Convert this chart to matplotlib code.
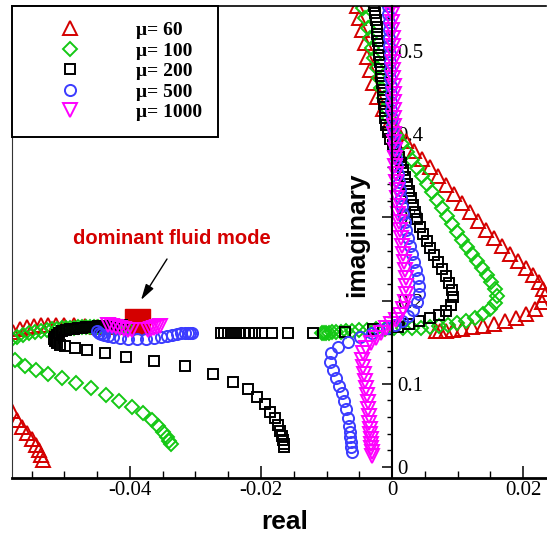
import matplotlib
matplotlib.use('Agg')

import matplotlib.pyplot as plt
from matplotlib.ticker import MultipleLocator
from matplotlib.font_manager import FontProperties

plt.rcParams['axes.unicode_minus'] = False

# eigenvalue loci (real, imaginary) for each mass ratio, one list pair per branch
mu60_a_re = [-0.00534, -0.00504, -0.00458, -0.00412, -0.00382, -0.00336, -0.00290, -0.00229, -0.00137, -0.00031,
             0.00092, 0.00214, 0.00336, 0.00458, 0.00580, 0.00702, 0.00824, 0.00947, 0.01069, 0.01191,
             0.01313, 0.01435, 0.01557, 0.01679, 0.01802, 0.01924, 0.02046, 0.02153, 0.02244, 0.02305,
             0.02336, 0.02290, 0.02183, 0.02046, 0.01893, 0.01725, 0.01557, 0.01389, 0.01221, 0.01069,
             0.00931, 0.00824, 0.00733, 0.00672]
mu60_a_im = [0.5541, 0.5397, 0.5252, 0.5096, 0.4928, 0.4772, 0.4615, 0.4447, 0.4303, 0.4159,
             0.4026, 0.3918, 0.3798, 0.3702, 0.3606, 0.3498, 0.3389, 0.3281, 0.3173, 0.3065,
             0.2957, 0.2849, 0.2752, 0.2656, 0.2560, 0.2476, 0.2392, 0.2308, 0.2224, 0.2139,
             0.2067, 0.1983, 0.1899, 0.1839, 0.1791, 0.1755, 0.1719, 0.1695, 0.1683, 0.1659,
             0.1647, 0.1635, 0.1635, 0.1635]
mu60_b_re = [-0.05786, -0.05679, -0.05573, -0.05466, -0.05359, -0.05252, -0.05130, -0.05008, -0.04855, -0.04687,
             -0.04504, -0.04321, -0.04153, -0.04000, -0.03847]
mu60_b_im = [0.1623, 0.1659, 0.1683, 0.1695, 0.1707, 0.1707, 0.1707, 0.1707, 0.1707, 0.1695,
             0.1683, 0.1683, 0.1683, 0.1683, 0.1683]
mu60_c_re = [-0.05802, -0.05725, -0.05649, -0.05573, -0.05496, -0.05435, -0.05389, -0.05359, -0.05328]
mu60_c_im = [0.0673, 0.0565, 0.0481, 0.0409, 0.0337, 0.0264, 0.0204, 0.0144, 0.0084]

mu100_a_re = [-0.00443, -0.00412, -0.00366, -0.00336, -0.00305, -0.00275, -0.00229, -0.00198, -0.00168, -0.00122,
              -0.00092, -0.00046, 0.00015, 0.00076, 0.00153, 0.00229, 0.00305, 0.00382, 0.00458, 0.00534,
              0.00611, 0.00687, 0.00763, 0.00840, 0.00916, 0.00992, 0.01069, 0.01145, 0.01221, 0.01298,
              0.01374, 0.01450, 0.01511, 0.01573, 0.01603, 0.01573, 0.01496, 0.01389, 0.01267, 0.01130,
              0.00992, 0.00855, 0.00718, 0.00580, 0.00443, 0.00305, 0.00168, 0.00031, -0.00107, -0.00244,
              -0.00382, -0.00504, -0.00611, -0.00702, -0.00779, -0.00855, -0.00916, -0.00962, -0.01008, -0.01038,
              -0.01069]
mu100_a_im = [0.5517, 0.5397, 0.5276, 0.5156, 0.5036, 0.4916, 0.4796, 0.4675, 0.4555, 0.4435,
              0.4315, 0.4195, 0.4075, 0.3978, 0.3882, 0.3786, 0.3690, 0.3594, 0.3498, 0.3401,
              0.3305, 0.3209, 0.3113, 0.3017, 0.2921, 0.2825, 0.2728, 0.2644, 0.2560, 0.2476,
              0.2392, 0.2308, 0.2224, 0.2139, 0.2055, 0.1971, 0.1899, 0.1839, 0.1791, 0.1755,
              0.1731, 0.1707, 0.1695, 0.1683, 0.1671, 0.1671, 0.1671, 0.1671, 0.1659, 0.1659,
              0.1647, 0.1647, 0.1635, 0.1635, 0.1623, 0.1623, 0.1623, 0.1611, 0.1611, 0.1611,
              0.1611]
mu100_b_re = [-0.05802, -0.05725, -0.05634, -0.05542, -0.05450, -0.05359, -0.05267, -0.05191, -0.05115, -0.05038,
              -0.04977, -0.04916, -0.04855, -0.04794, -0.04733, -0.04672, -0.04611, -0.04550, -0.04489, -0.04427,
              -0.04366, -0.04305, -0.04244, -0.04183, -0.04122, -0.04061]
mu100_b_im = [0.1538, 0.1562, 0.1587, 0.1611, 0.1623, 0.1635, 0.1647, 0.1659, 0.1659, 0.1671,
              0.1671, 0.1671, 0.1671, 0.1683, 0.1683, 0.1683, 0.1683, 0.1683, 0.1683, 0.1683,
              0.1683, 0.1683, 0.1683, 0.1683, 0.1683, 0.1683]
mu100_c_re = [-0.05756, -0.05603, -0.05435, -0.05252, -0.05038, -0.04824, -0.04595, -0.04366, -0.04168, -0.03969,
              -0.03802, -0.03664, -0.03573, -0.03496, -0.03435, -0.03405, -0.03374]
mu100_c_im = [0.1286, 0.1214, 0.1166, 0.1118, 0.1070, 0.1010, 0.0950, 0.0865, 0.0793, 0.0721,
              0.0649, 0.0565, 0.0493, 0.0421, 0.0361, 0.0313, 0.0276]

mu200_a_re = [-0.00275, -0.00260, -0.00244, -0.00229, -0.00229, -0.00214, -0.00198, -0.00198, -0.00183, -0.00168,
              -0.00168, -0.00153, -0.00137, -0.00137, -0.00122, -0.00107, -0.00107, -0.00092, -0.00061, -0.00031,
              0.00015, 0.00061, 0.00107, 0.00137, 0.00168, 0.00198, 0.00229, 0.00260, 0.00290, 0.00321,
              0.00351, 0.00382, 0.00427, 0.00473, 0.00534, 0.00580, 0.00641, 0.00702, 0.00763, 0.00824,
              0.00870, 0.00916, 0.00931, 0.00901, 0.00824, 0.00718, 0.00580, 0.00412, 0.00260, 0.00092,
              -0.00290, -0.00718, -0.01206, -0.01588, -0.01832, -0.01985, -0.02092, -0.02183, -0.02260, -0.02321,
              -0.02382, -0.02443, -0.02504, -0.02565, -0.02611]
mu200_a_im = [0.5541, 0.5457, 0.5373, 0.5288, 0.5204, 0.5120, 0.5036, 0.4952, 0.4868, 0.4784,
              0.4700, 0.4615, 0.4531, 0.4447, 0.4363, 0.4279, 0.4195, 0.4111, 0.4026, 0.3942,
              0.3870, 0.3798, 0.3726, 0.3654, 0.3570, 0.3486, 0.3401, 0.3317, 0.3233, 0.3149,
              0.3065, 0.2981, 0.2885, 0.2800, 0.2716, 0.2632, 0.2548, 0.2464, 0.2380, 0.2296,
              0.2212, 0.2127, 0.2043, 0.1947, 0.1875, 0.1827, 0.1791, 0.1755, 0.1719, 0.1683,
              0.1659, 0.1623, 0.1611, 0.1611, 0.1611, 0.1611, 0.1611, 0.1611, 0.1611, 0.1611,
              0.1611, 0.1611, 0.1611, 0.1611, 0.1611]
mu200_b_re = [-0.04122, -0.04183, -0.04244, -0.04305, -0.04366, -0.04427, -0.04489, -0.04550, -0.04611, -0.04672,
              -0.04733, -0.04794, -0.04855, -0.04916, -0.04977, -0.05038, -0.05084, -0.05115, -0.05145, -0.05160,
              -0.05145, -0.05115, -0.05069, -0.04992, -0.04840, -0.04656, -0.04382, -0.04061, -0.03634, -0.03160,
              -0.02733, -0.02427, -0.02198, -0.02061, -0.01939, -0.01863, -0.01786, -0.01740, -0.01710, -0.01679,
              -0.01664, -0.01649, -0.01649]
mu200_b_im = [0.1707, 0.1707, 0.1707, 0.1695, 0.1695, 0.1695, 0.1695, 0.1683, 0.1683, 0.1683,
              0.1671, 0.1671, 0.1659, 0.1659, 0.1647, 0.1635, 0.1611, 0.1587, 0.1562, 0.1538,
              0.1514, 0.1490, 0.1466, 0.1454, 0.1430, 0.1406, 0.1370, 0.1322, 0.1274, 0.1214,
              0.1118, 0.1022, 0.0938, 0.0841, 0.0757, 0.0661, 0.0589, 0.0505, 0.0433, 0.0373,
              0.0325, 0.0276, 0.0240]

mu500_a_re = [-0.00061, -0.00061, -0.00046, -0.00046, -0.00046, -0.00046, -0.00031, -0.00031, -0.00031, -0.00031,
              -0.00015, -0.00015, -0.00015, -0.00015, 0.00000, 0.00000, 0.00015, 0.00031, 0.00046, 0.00061,
              0.00076, 0.00092, 0.00107, 0.00122, 0.00137, 0.00153, 0.00168, 0.00198, 0.00214, 0.00244,
              0.00275, 0.00305, 0.00336, 0.00366, 0.00397, 0.00412, 0.00412, 0.00382, 0.00321, 0.00244,
              0.00153, 0.00046, -0.00076, -0.00198, -0.00305, -0.00489, -0.00672, -0.00824, -0.00931, -0.00947,
              -0.00901, -0.00855, -0.00809, -0.00763, -0.00733, -0.00702, -0.00672, -0.00656, -0.00641, -0.00641,
              -0.00626, -0.00626, -0.00611]
mu500_a_im = [0.5541, 0.5445, 0.5349, 0.5252, 0.5156, 0.5060, 0.4964, 0.4868, 0.4772, 0.4675,
              0.4579, 0.4483, 0.4387, 0.4291, 0.4195, 0.4099, 0.4002, 0.3906, 0.3810, 0.3714,
              0.3618, 0.3522, 0.3425, 0.3329, 0.3233, 0.3137, 0.3041, 0.2945, 0.2849, 0.2752,
              0.2656, 0.2560, 0.2464, 0.2368, 0.2272, 0.2175, 0.2079, 0.1983, 0.1887, 0.1815,
              0.1755, 0.1707, 0.1671, 0.1647, 0.1611, 0.1562, 0.1502, 0.1442, 0.1370, 0.1262,
              0.1166, 0.1070, 0.0974, 0.0889, 0.0793, 0.0697, 0.0589, 0.0493, 0.0421, 0.0361,
              0.0300, 0.0240, 0.0180]
mu500_b_re = [-0.04504, -0.04473, -0.04443, -0.04397, -0.04336, -0.04260, -0.04153, -0.04031, -0.03893, -0.03756,
              -0.03634, -0.03527, -0.03435, -0.03359, -0.03282, -0.03221, -0.03160, -0.03115, -0.03084, -0.03053]
mu500_b_im = [0.1635, 0.1611, 0.1599, 0.1587, 0.1575, 0.1562, 0.1550, 0.1538, 0.1538, 0.1538,
              0.1550, 0.1562, 0.1575, 0.1587, 0.1599, 0.1611, 0.1611, 0.1611, 0.1611, 0.1611]

mu1000_a_re = [0.00000, 0.00000, 0.00000, 0.00000, 0.00015, 0.00015, 0.00015, 0.00015, 0.00015, 0.00015,
               0.00031, 0.00031, 0.00031, 0.00031, 0.00031, 0.00031, 0.00031, 0.00031, 0.00046, 0.00046,
               0.00046, 0.00061, 0.00061, 0.00076, 0.00076, 0.00092, 0.00092, 0.00107, 0.00122, 0.00137,
               0.00153, 0.00168, 0.00183, 0.00198, 0.00214, 0.00214, 0.00214, 0.00198, 0.00168, 0.00122,
               0.00061, -0.00015, -0.00092, -0.00168, -0.00244, -0.00321, -0.00397, -0.00443, -0.00458, -0.00443,
               -0.00427, -0.00412, -0.00397, -0.00382, -0.00366, -0.00366, -0.00351, -0.00351, -0.00336, -0.00336,
               -0.00321, -0.00321, -0.00321, -0.00305, -0.00305]
mu1000_a_im = [0.5541, 0.5445, 0.5349, 0.5252, 0.5156, 0.5060, 0.4964, 0.4868, 0.4772, 0.4675,
               0.4579, 0.4483, 0.4387, 0.4291, 0.4195, 0.4099, 0.4002, 0.3906, 0.3810, 0.3714,
               0.3618, 0.3522, 0.3425, 0.3329, 0.3233, 0.3137, 0.3041, 0.2945, 0.2849, 0.2752,
               0.2656, 0.2560, 0.2464, 0.2368, 0.2272, 0.2175, 0.2079, 0.1983, 0.1899, 0.1827,
               0.1767, 0.1719, 0.1671, 0.1611, 0.1550, 0.1490, 0.1430, 0.1370, 0.1286, 0.1202,
               0.1118, 0.1034, 0.0950, 0.0865, 0.0781, 0.0697, 0.0613, 0.0529, 0.0457, 0.0397,
               0.0337, 0.0276, 0.0228, 0.0180, 0.0132]
mu1000_b_re = [-0.04336, -0.04275, -0.04214, -0.04153, -0.04092, -0.04031, -0.03969, -0.03725, -0.03679, -0.03634,
               -0.03588, -0.03542]
mu1000_b_im = [0.1707, 0.1695, 0.1683, 0.1671, 0.1659, 0.1647, 0.1647, 0.1647, 0.1659, 0.1671,
               0.1683, 0.1695]

# dominant fluid mode
dom_re = [-0.0389]
dom_im = [0.176]

labels = ['\u03bc= 60', '\u03bc= 100', '\u03bc= 200', '\u03bc= 500', '\u03bc= 1000']
x_ticks = [-0.04, -0.02, 0, 0.02]
x_ticklabels = ['-0.04', '-0.02', '0', '0.02']
y_ticks = [0, 0.1, 0.2, 0.3, 0.4, 0.5]
y_ticklabels = ['0', '0.1', '0.2', '0.3', '0.4', '0.5']

RED = '#d40000'
GREEN = '#14c814'
BLUE = '#3c3cff'
MAGENTA = '#ff00ff'

series = [
    (labels[0], '^', RED, 10.0, [(mu60_a_re, mu60_a_im), (mu60_b_re, mu60_b_im), (mu60_c_re, mu60_c_im)]),
    (labels[1], 'D', GREEN, 7.0, [(mu100_a_re, mu100_a_im), (mu100_b_re, mu100_b_im), (mu100_c_re, mu100_c_im)]),
    (labels[2], 's', 'black', 7.0, [(mu200_a_re, mu200_a_im), (mu200_b_re, mu200_b_im)]),
    (labels[3], 'o', BLUE, 8.0, [(mu500_a_re, mu500_a_im), (mu500_b_re, mu500_b_im)]),
    (labels[4], 'v', MAGENTA, 10.0, [(mu1000_a_re, mu1000_a_im), (mu1000_b_re, mu1000_b_im)]),
]

fig = plt.figure(figsize=(5.47, 5.33), dpi=100)
ax = fig.add_axes([12 / 547, 55 / 533, 534 / 547, 472 / 533])

ax.plot(dom_re, dom_im, 's', color=RED, ms=18, zorder=1.5)

handles = []
for label, marker, color, size, branches in series:
    for i, (re, im) in enumerate(branches):
        h, = ax.plot(re, im, linestyle='none', marker=marker, ms=size,
                     mfc='none', mec=color, mew=1.4)
        if i == 0:
            handles.append(h)

ax.set_xlim(-0.058015, 0.023511)
ax.set_ylim(-0.01322, 0.55409)

# y axis sits on real = 0, frame line kept on the left edge
ax.spines['left'].set_position(('data', 0))
ax.spines['left'].set_linewidth(1.5)
ax.spines['right'].set_visible(False)
ax.spines['top'].set_linewidth(1.2)
ax.spines['bottom'].set_linewidth(2.0)
ax.plot([0, 0], [0, 1], transform=ax.transAxes, color='#333333', lw=0.8, clip_on=False)

tick_font = FontProperties(family='Liberation Serif', size=15)

ax.set_xticks(x_ticks)
ax.set_xticklabels(x_ticklabels, fontproperties=tick_font)
ax.xaxis.set_minor_locator(MultipleLocator(0.005))
ax.tick_params(axis='x', which='major', direction='in', length=8.6, width=1.1, pad=2.5)
ax.tick_params(axis='x', which='minor', direction='in', length=5, width=1.0)

ax.set_yticks(y_ticks)
ax.set_yticklabels(y_ticklabels, fontproperties=tick_font)
ax.yaxis.set_minor_locator(MultipleLocator(0.02))
ax.tick_params(axis='y', which='major', direction='out', length=7.2, width=1.1, pad=-(7.2 + 3.5))
ax.tick_params(axis='y', which='minor', direction='out', length=3.6, width=1.0)
plt.setp(ax.get_yticklabels(), ha='left',
         bbox=dict(facecolor='white', edgecolor='none', pad=0.3))

label_font = FontProperties(family='Liberation Sans', weight='bold', size=19)
ax.set_xlabel('real', fontproperties=label_font)
ax.xaxis.set_label_coords(0.511, -0.093)
ax.xaxis.label.set_va('center')
ax.set_ylabel('imaginary', fontproperties=label_font)
ax.yaxis.set_label_coords(0.646, 0.515)
ax.yaxis.label.set_va('center')

ax.text(-0.03366, 0.2752, 'dominant fluid mode', color=RED, fontsize=14.5,
        fontweight='bold', family='Liberation Sans', ha='center', va='center')
ax.annotate('', xy=(-0.03832, 0.2007), xytext=(-0.03435, 0.2500),
            arrowprops=dict(arrowstyle='-|>,head_length=0.6,head_width=0.17',
                            color='black', lw=1, mutation_scale=16,
                            shrinkA=0, shrinkB=0))

leg = ax.legend(handles, labels, loc='upper left', bbox_to_anchor=(0, 1),
                borderaxespad=0, prop=FontProperties(family='Liberation Serif', weight='bold', size=14),
                fancybox=False, edgecolor='black', framealpha=1, borderpad=0.8,
                handlelength=4.4, handletextpad=1.2, labelspacing=0.15, numpoints=1)
leg.get_frame().set_linewidth(1.4)

fig.savefig('out.png', dpi=100)
